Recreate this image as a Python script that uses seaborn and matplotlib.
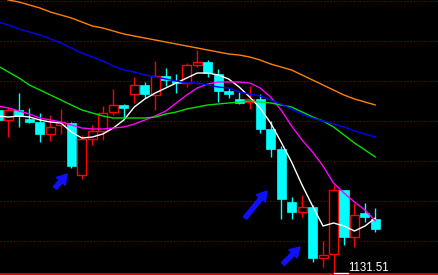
import numpy as np
import pandas as pd
import matplotlib
matplotlib.use("Agg")
import matplotlib.pyplot as plt
from matplotlib.patches import FancyArrowPatch
import seaborn as sns

# ---- data ----
opens = [1213, 1208, 1213, 1208.5, 1207, 1201, 1205.5, 1206.5, 1180.5, 1198.5,
         1202.5, 1212, 1215.5, 1221, 1225.5, 1220.5, 1230, 1227.5, 1226.5, 1235.5,
         1237, 1231, 1222.5, 1218.5, 1217, 1218.5, 1203.5, 1193.5, 1167, 1162,
         1164.5, 1139, 1141, 1173, 1149.5, 1161.5, 1158.5]
highs = [1214, 1214.5, 1221.5, 1214, 1211.5, 1210.5, 1213.5, 1207, 1200.5, 1205.5,
         1215, 1223.5, 1216, 1229.5, 1227, 1237.5, 1234, 1231, 1236.5, 1243,
         1238, 1233.5, 1224, 1222, 1225, 1221, 1207.5, 1195, 1169.5, 1170.5,
         1165.5, 1147.5, 1175.5, 1173, 1166.5, 1166.5, 1164]
lows = [1207, 1199.5, 1204.5, 1206.5, 1197, 1197.5, 1201, 1184, 1178.5, 1195.5,
        1198, 1210.5, 1209, 1216.5, 1219, 1213, 1225, 1221.5, 1224.5, 1234.5,
        1229.5, 1217, 1219, 1216, 1213.5, 1201.5, 1189.5, 1158.5, 1158.5, 1159.5,
        1137, 1134.5, 1131.5, 1145.5, 1144.5, 1157, 1152]
closes = [1208, 1213, 1210, 1207, 1201, 1204.5, 1207, 1185, 1198.5, 1202.5,
          1211.5, 1215.5, 1214, 1225.5, 1221, 1230, 1228, 1226.5, 1235.5, 1237,
          1231.5, 1222.5, 1221, 1216.5, 1218.5, 1203.5, 1193.5, 1168.5, 1162, 1164.5,
          1139, 1140.5, 1173, 1149.5, 1160.5, 1159.5, 1153.5]

ma_white = [1210, 1209.5, 1210, 1209.5, 1208, 1207, 1206.5, 1202, 1199, 1199.5,
            1201, 1204, 1208, 1214.5, 1218.5, 1221.5, 1224, 1226.5, 1229, 1231.5,
            1231.5, 1230.5, 1228.5, 1224.5, 1219.5, 1214, 1206.5, 1197, 1187, 1175.5,
            1165, 1155, 1156.5, 1155, 1152.5, 1155, 1159]
ma_magenta = [1215, 1214, 1212.5, 1211, 1209, 1208, 1207, 1205.5, 1204, 1203.5,
              1203.5, 1204, 1204.5, 1206, 1208, 1210, 1212.5, 1216.5, 1220.5, 1224,
              1226, 1227, 1227, 1227, 1226.5, 1224, 1219.5, 1213, 1205, 1198,
              1192, 1185, 1176.5, 1171.5, 1167, 1163, 1157.5]
ma_green = [1235, 1232, 1229, 1225.5, 1223, 1220.5, 1218, 1215.5, 1213, 1211.5,
            1210, 1209, 1209, 1209, 1209, 1209.5, 1211, 1212, 1213.5, 1214.5,
            1215.5, 1216, 1216.5, 1217, 1217.5, 1217, 1216.5, 1215.5, 1214.5, 1212,
            1209.5, 1207.5, 1204.5, 1200.5, 1196.5, 1193, 1189.5]
ma_blue = [1257, 1255.5, 1253.5, 1252, 1250.5, 1248.5, 1246.5, 1244, 1241.5, 1239.5,
           1237.5, 1235, 1233, 1232, 1230.5, 1229.5, 1228.5, 1227.5, 1226.5, 1226.5,
           1225.5, 1224.5, 1224, 1222, 1221, 1220, 1218, 1216, 1213.5, 1211,
           1209, 1207.5, 1206, 1204.5, 1202.5, 1201, 1199.5]
ma_orange = [1270, 1268, 1267, 1265.5, 1264, 1262, 1260.5, 1259, 1257, 1255,
             1254, 1252.5, 1251, 1250, 1249, 1248, 1247, 1246, 1245, 1244,
             1243, 1242, 1241, 1240.5, 1239.5, 1238, 1236, 1234.5, 1233, 1230.5,
             1228, 1225.5, 1223, 1220.5, 1218.5, 1217, 1215.5]

low_label = "1131.51"
grid_levels = [1267.5, 1247.5, 1227.5, 1207.5, 1187.5, 1167.5, 1147.5]
# annotation arrows: (tail_x, tail_y, tip_x, tip_y) in candle index / price
arrows = [(5.44, 1174, 6.6, 1181),
          (23.56, 1159, 25.65, 1172.5),
          (27.18, 1136, 28.8, 1144.5)]

# ---- plotting ----
sns.set_style("dark", {"axes.facecolor": "black", "figure.facecolor": "black"})
fig = plt.figure(figsize=(4.39, 2.75), dpi=100)
ax = fig.add_axes([0, 0, 1, 1])
ax.set_facecolor("black")

idx = np.arange(len(opens))
ax.set_xlim(0.19, 42.06)
ax.set_ylim(1130.5, 1268)

for g in grid_levels:
    ax.axhline(g, color="#8a0000", lw=0.8, ls=(0, (1, 2)), zorder=1)
ax.axhline(1131.0, color="#d00000", lw=1.5, zorder=1)

W = 0.86
CYAN = "#00ffff"
RED = "#ff0000"
for i in idx:
    o, h, l, c = opens[i], highs[i], lows[i], closes[i]
    if c >= o:
        ax.vlines(i, c, h, color=RED, lw=1.0, zorder=3)
        ax.vlines(i, l, o, color=RED, lw=1.0, zorder=3)
        ax.bar(i, c - o, bottom=o, width=W, facecolor="black", edgecolor=RED,
               linewidth=1.0, zorder=3)
    else:
        ax.vlines(i, l, h, color=CYAN, lw=1.0, zorder=3)
        ax.bar(i, o - c, bottom=c, width=W, facecolor=CYAN, edgecolor=CYAN,
               linewidth=0.5, zorder=3)

df = pd.DataFrame({
    "i": np.tile(idx, 5),
    "v": ma_white + ma_magenta + ma_green + ma_blue + ma_orange,
    "ma": np.repeat(["MA5", "MA10", "MA20", "MA30", "MA60"], len(idx)),
})
palette = {"MA5": "#ffffff", "MA10": "#ff00ff", "MA20": "#00e000",
           "MA30": "#0000ff", "MA60": "#ff8000"}
sns.lineplot(data=df, x="i", y="v", hue="ma", palette=palette, lw=1.0,
             legend=False, ax=ax, zorder=4)

# lowest-price marker
lo_i = int(np.argmin(lows))
ax.plot([lo_i, lo_i + 1.4], [lows[lo_i], lows[lo_i]], color="white", lw=1.0, zorder=5)
ax.text(lo_i + 1.4, lows[lo_i] + 1.2, low_label, color="white", fontsize=8.3,
        family="Liberation Sans", ha="left", va="baseline", zorder=5)

for (x0, y0, x1, y1) in arrows:
    ax.add_patch(FancyArrowPatch((x0, y0), (x1, y1),
                                 arrowstyle="simple,head_length=7,head_width=8.5,tail_width=3",
                                 color="#1010ff", mutation_scale=1, zorder=5,
                                 shrinkA=0, shrinkB=0))

ax.set_xticks([])
ax.set_yticks([])
ax.set_xlabel("")
ax.set_ylabel("")
for s in ax.spines.values():
    s.set_visible(False)

fig.savefig("out.png", dpi=100, facecolor="black")
